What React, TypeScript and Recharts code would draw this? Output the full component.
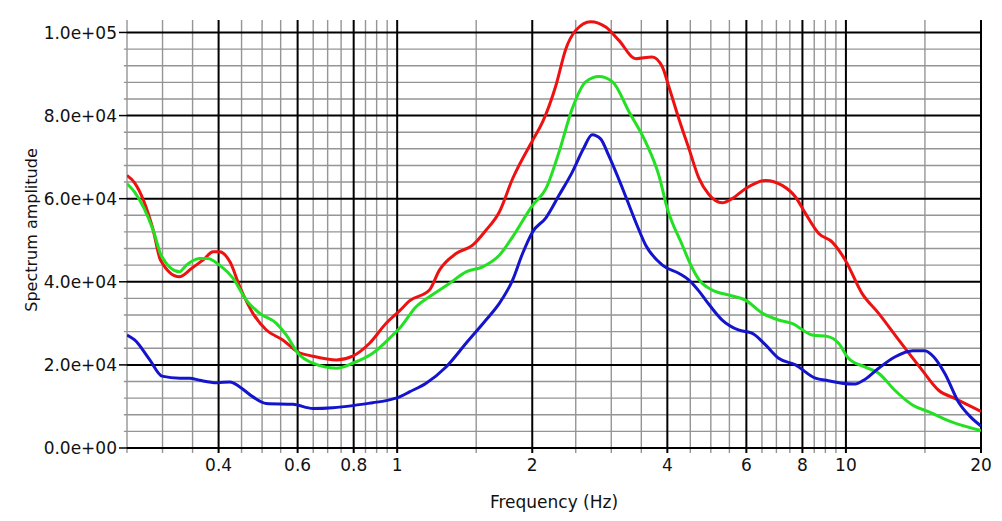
import { Line, LineChart, ReferenceLine, XAxis, YAxis } from "recharts";

const redFreq = [
  0.25, 0.26, 0.286, 0.297, 0.327, 0.348, 0.369, 0.389, 0.402, 0.424, 0.446, 0.477, 0.511, 0.556, 0.601, 0.649,
  0.732, 0.796, 0.868, 0.945, 1.012, 1.065, 1.18, 1.242, 1.353, 1.473, 1.577, 1.689, 1.808, 2.003, 2.108, 2.259,
  2.377, 2.5, 2.7, 2.917, 3.12, 3.4, 3.7, 3.9, 4.03, 4.25, 4.47, 4.7, 4.95, 5.3, 5.58, 5.97, 6.62, 7.21, 7.72,
  8.13, 8.7, 9.31, 9.97, 10.86, 11.83, 13.11, 14.77, 16.09, 17.52, 20,
];
const redAmp = [
  65600, 63800, 52400, 45200, 41200, 43200, 45200, 47200, 47200, 44800, 38800, 32400, 28400, 26000, 23100, 22100,
  21200, 22100, 25200, 30000, 33000, 35400, 38000, 42800, 46800, 48800, 52400, 56800, 64800, 74000, 78400, 87300,
  96100, 100500, 102600, 101300, 98100, 93700, 94100, 91700, 87000, 79000, 72000, 65000, 61000, 59000, 60000, 62400,
  64400, 63200, 60400, 56400, 51600, 49600, 45200, 37200, 32400, 26000, 18800, 13900, 11900, 8800,
];

const greenFreq = [
  0.25, 0.26, 0.286, 0.299, 0.327, 0.339, 0.363, 0.378, 0.402, 0.431, 0.461, 0.494, 0.538, 0.566, 0.601, 0.649,
  0.732, 0.796, 0.882, 0.978, 1.012, 1.102, 1.18, 1.307, 1.424, 1.55, 1.689, 1.808, 2.003, 2.145, 2.294, 2.456,
  2.63, 2.817, 3.02, 3.29, 3.58, 3.83, 4.0, 4.32, 4.47, 4.7, 5.04, 5.49, 5.97, 6.52, 7.08, 7.58, 8.41, 9.13, 9.63,
  10.13, 11.02, 11.83, 12.85, 14.1, 15.3, 17.2, 20,
];
const greenAmp = [
  63600, 61600, 52400, 46000, 42400, 44000, 45600, 45600, 44000, 40800, 35600, 32400, 30000, 27200, 22800, 20400,
  19200, 20400, 22800, 27200, 28800, 34000, 36400, 39600, 42400, 43600, 46400, 50800, 58400, 62400, 71200, 81700,
  88100, 89400, 88100, 80800, 73600, 65600, 57600, 48800, 45000, 40600, 38000, 36800, 35600, 32400, 30800, 30000,
  27200, 26800, 25200, 21600, 19500, 18000, 13900, 10300, 8700, 6300, 4200,
];

const blueFreq = [
  0.25, 0.26, 0.281, 0.299, 0.328, 0.345, 0.363, 0.396, 0.424, 0.446, 0.477, 0.511, 0.586, 0.649, 0.719, 0.796,
  0.882, 0.945, 1.012, 1.065, 1.16, 1.285, 1.424, 1.577, 1.689, 1.808, 1.903, 2.003, 2.145, 2.294, 2.456, 2.6, 2.72,
  2.84, 2.96, 3.18, 3.4, 3.58, 3.9, 4.25, 4.47, 4.7, 4.87, 5.3, 5.76, 6.19, 6.62, 7.08, 7.72, 8.55, 9.13, 9.79,
  10.48, 11.02, 11.83, 12.85, 14.1, 14.99, 15.7, 16.6, 17.9, 18.95, 20,
];
const blueAmp = [
  27200, 26000, 21200, 17300, 16800, 16800, 16300, 15700, 15900, 14700, 12300, 10700, 10500, 9500, 9700, 10200,
  10900, 11400, 12300, 13500, 15600, 19500, 25200, 30800, 34800, 40400, 46800, 52000, 55400, 60800, 66400, 72000,
  75400, 74400, 70400, 62400, 54400, 48800, 44000, 42000, 40400, 37800, 35600, 30800, 28400, 27600, 24800, 21600,
  20000, 16800, 16200, 15600, 15400, 16500, 19200, 21900, 23400, 23400, 21900, 18000, 10700, 7500, 5300,
];

const xTicks = [0.4, 0.6, 0.8, 1, 2, 4, 6, 8, 10, 20];
const xMinor = [
  0.25, 0.3, 0.35, 0.45, 0.5, 0.55, 0.65, 0.7, 0.75, 0.85, 0.9, 0.95, 1.5, 2.5, 3, 3.5, 4.5, 5, 5.5, 6.5, 7, 7.5,
  8.5, 9, 9.5, 15,
];
const yTicks = [0, 20000, 40000, 60000, 80000, 100000];
const yMinor = [
  4000, 8000, 12000, 16000, 24000, 28000, 32000, 36000, 44000, 48000, 52000, 56000, 64000, 68000, 72000, 76000,
  84000, 88000, 92000, 96000,
];

const toRows = (freq: number[], amp: number[]) => freq.map((f, i) => ({ f, a: amp[i] }));

const redData = toRows(redFreq, redAmp);
const greenData = toRows(greenFreq, greenAmp);
const blueData = toRows(blueFreq, blueAmp);

function fmtExp(v: number) {
  const [m, e] = v.toExponential(1).split("e");
  return `${m}e${e[0]}${e.slice(1).padStart(2, "0")}`;
}

const tickStyle = { fontSize: 17, fill: "#111", fontFamily: "DejaVu Sans" };
const minorStroke = "#959595";

export default function App() {
  return (
    <div style={{ position: "absolute", left: 0, top: 0, width: 1002, height: 521, background: "#fff" }}>
      <LineChart width={1002} height={521} margin={{ top: 20, right: 21, left: 0, bottom: 43 }}>
        <XAxis
          dataKey="f"
          type="number"
          scale="log"
          domain={[0.25, 20]}
          allowDataOverflow
          ticks={xTicks}
          tickFormatter={(v) => String(v)}
          axisLine={false}
          tickSize={5}
          tickMargin={6}
          tickLine={{ stroke: "#000", strokeWidth: 2 }}
          tick={tickStyle}
          height={30}
        />
        <YAxis
          type="number"
          domain={[0, 103000]}
          allowDataOverflow
          ticks={yTicks}
          tickFormatter={fmtExp}
          axisLine={false}
          tickSize={8}
          tickMargin={2}
          tickLine={{ stroke: "#000", strokeWidth: 1.5 }}
          tick={tickStyle}
          width={127}
        />
        {xMinor.map((v) => (
          <ReferenceLine
            key={`xm${v}`}
            segment={[
              { x: v, y: -1200 },
              { x: v, y: 103000 },
            ]}
            ifOverflow="visible"
            stroke={minorStroke}
            strokeWidth={1.4}
          />
        ))}
        {yMinor.map((v) => (
          <ReferenceLine
            key={`ym${v}`}
            segment={[
              { x: 0.246, y: v },
              { x: 20, y: v },
            ]}
            ifOverflow="visible"
            stroke={minorStroke}
            strokeWidth={1.4}
          />
        ))}
        {xTicks.map((v) => (
          <ReferenceLine key={`xM${v}`} x={v} stroke="#000" strokeWidth={2} />
        ))}
        {yTicks.map((v) => (
          <ReferenceLine key={`yM${v}`} y={v} stroke="#000" strokeWidth={2} />
        ))}
        <Line data={redData} dataKey="a" type="monotone" stroke="#ee1111" strokeWidth={3} dot={false} isAnimationActive={false} />
        <Line data={greenData} dataKey="a" type="monotone" stroke="#22e022" strokeWidth={3} dot={false} isAnimationActive={false} />
        <Line data={blueData} dataKey="a" type="monotone" stroke="#1414cc" strokeWidth={3} dot={false} isAnimationActive={false} />
      </LineChart>
      <div
        style={{
          position: "absolute",
          left: 127,
          width: 854,
          top: 494,
          textAlign: "center",
          fontSize: 17,
          lineHeight: "17px",
          fontFamily: "DejaVu Sans",
          color: "#111",
        }}
      >
        Frequency (Hz)
      </div>
      <div
        style={{
          position: "absolute",
          left: 32,
          top: 230,
          transform: "translate(-50%, -50%) rotate(-90deg)",
          whiteSpace: "nowrap",
          fontSize: 16,
          lineHeight: "16px",
          fontFamily: "DejaVu Sans",
          color: "#111",
        }}
      >
        Spectrum amplitude
      </div>
    </div>
  );
}
